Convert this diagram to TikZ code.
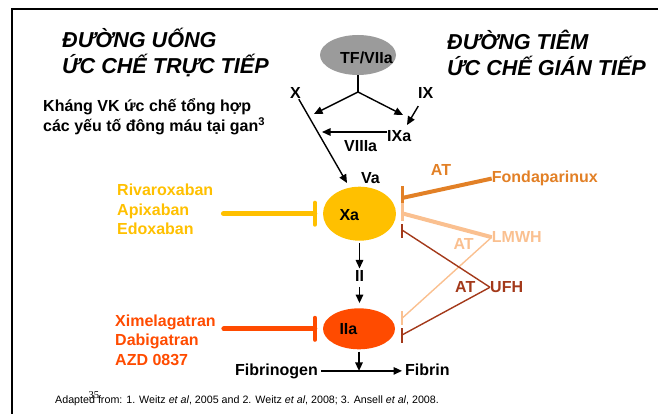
\documentclass[tikz,border=0pt]{standalone}
\usepackage{fontspec}
\setmainfont{Liberation Sans}
\newfontfamily\numfont{Liberation Serif}
\usetikzlibrary{arrows.meta, shapes.geometric}

\definecolor{xagold}{RGB}{255,192,0}
\definecolor{iiared}{RGB}{255,75,0}
\definecolor{fondaorange}{RGB}{226,128,38}
\definecolor{lmwhpeach}{RGB}{250,192,144}
\definecolor{ufhbrown}{RGB}{163,57,26}
\definecolor{tfgray}{RGB}{155,155,155}

\tikzset{
	lbl/.style = {font=\bfseries\fontsize{16}{19.5}\selectfont, inner sep=0pt},
	title/.style = {font=\bfseries\itshape\fontsize{21.6}{26}\selectfont, inner sep=0pt, align=left, anchor=west},
	factor/.style = {ellipse, inner sep=0pt, draw=none},
	arr/.style = {-{Triangle[length=8.5pt,width=7.5pt]}, line width=1.4pt},
	inh/.style = {line width=5pt, line cap=round},
	thickinh/.style = {line width=4pt},
	thininh/.style = {line width=1.4pt},
	inhbar/.style = {line width=3pt},
	thinbar/.style = {line width=1.6pt}
}

\begin{document}
\begin{tikzpicture}[x=1pt, y=-1pt]
	\useasboundingbox (0,0) rectangle (658,414);
	% slide frame
	\draw[line width=2.2pt] (12,414) -- (12,9) -- (658,9);

	\node[title] (oral) at (62,53) {ĐƯỜNG UỐNG\\ỨC CHẾ TRỰC TIẾP};
	\node[title] (inject) at (447,53) {ĐƯỜNG TIÊM\\ỨC CHẾ GIÁN TIẾP};
	\node[lbl, align=left, anchor=west, font=\bfseries\fontsize{16}{20}\selectfont] (vka) at (43,117) {Kháng VK ức chế tổng hợp\\các yếu tố đông máu tại gan\textsuperscript{3}};

	% cascade
	\node[factor, fill=tfgray, minimum width=76pt, minimum height=40pt] (tf) at (358,55) {};
	\node[lbl, anchor=base west] (tftext) at (340,63.5) {TF/VIIa};
	\coordinate (split) at (358,92);
	\coordinate (tenase) at (314,114);
	\coordinate (ixtip) at (403,115);
	\draw[line width=1.4pt] (tf) -- (split);
	\draw[arr] (split) -- (tenase);
	\draw[arr] (split) -- (ixtip);

	\node[lbl, anchor=base west] (x) at (290,99) {X};
	\node[lbl, anchor=base west] (ix) at (418,99) {IX};
	\node[lbl, anchor=base west] (ixa) at (387,141.7) {IXa};
	\node[lbl, anchor=base west] (viiia) at (344,151.7) {VIIIa};
	\node[lbl, anchor=base west] (va) at (361,184) {Va};
	\coordinate (ixin) at (407,125);
	\draw[arr, shorten <=8pt] (ix) -- (ixin);
	\coordinate (viiiin) at (322,132);
	\draw[arr] (ixa.west |- viiiin) -- (viiiin);

	\node[factor, fill=xagold, minimum width=73pt, minimum height=54pt] (xa) at (359.5,213.7) {};
	\node[lbl, anchor=base west] (xatext) at (339.3,220) {Xa};
	\coordinate (xain) at (347,183);
	\draw[arr] (x) -- (xain);

	\node[lbl, anchor=base west] (ii) at (355,281.7) {II};
	\node[factor, fill=iiared, minimum width=72pt, minimum height=41pt] (iia) at (359,328.8) {};
	\node[lbl, anchor=base west] (iiatext) at (339.3,334.3) {IIa};
	\draw[arr, shorten <=2pt, shorten >=2pt] (xa.south) -- (xa.south |- ii.north);
	\draw[arr, shorten <=5pt, shorten >=5pt] (xa.south |- ii.south) -- (xa.south |- iia.north);

	\node[lbl, anchor=base east] (fibrinogen) at (318,375) {Fibrinogen};
	\node[lbl, anchor=base west] (fibrin) at (405,375) {Fibrin};
	\draw[arr, shorten <=3pt, shorten >=3pt] (fibrinogen.east) -- (fibrin.west |- fibrinogen.east);
	\draw[arr, shorten <=2pt] (iia.south) -- (iia.south |- fibrinogen.east);

	% direct inhibitors
	\node[lbl, align=left, anchor=west, text=xagold] (xadrugs) at (117,209.5) {Rivaroxaban\\Apixaban\\Edoxaban};
	\coordinate (xabar) at ([xshift=-8pt]xa.west);
	\draw[inh, xagold, shorten <=10pt] (xadrugs.east |- xabar) -- (xabar);
	\draw[inhbar, xagold, line width=4pt, line cap=round] ([shift={(0,-11)}]xabar) -- ([shift={(0,11)}]xabar);

	\node[lbl, align=left, anchor=west, text=iiared] (iiadrugs) at (115,340) {Ximelagatran\\Dabigatran\\AZD 0837};
	\coordinate (iiabar) at ([xshift=-8pt]iia.west);
	\draw[inh, iiared, shorten <=8pt] (iiadrugs.east |- iiabar) -- (iiabar);
	\draw[inhbar, iiared, line width=4pt, line cap=round] ([shift={(0,-11)}]iiabar) -- ([shift={(0,11)}]iiabar);

	% indirect inhibitors
	\node[lbl, anchor=base west, text=fondaorange] (fonda) at (491.7,182.7) {Fondaparinux};
	\node[lbl, anchor=base west, text=fondaorange] (atfonda) at (430.7,175.7) {AT};
	\node[lbl, anchor=base west, text=lmwhpeach] (lmwh) at (491.7,242.7) {LMWH};
	\node[lbl, anchor=base west, text=lmwhpeach] (atlmwh) at (453.3,249.3) {AT};
	\node[lbl, anchor=base west, text=ufhbrown] (ufh) at (490,292.7) {UFH};
	\node[lbl, anchor=base west, text=ufhbrown] (atufh) at (455,292.7) {AT};

	\coordinate (fondaxa) at (402,198);
	\coordinate (lmwhxa) at (402,213.3);
	\coordinate (ufhxa) at (402,230);
	\coordinate (lmwhiia) at (402,318.3);
	\coordinate (ufhiia) at (402,335);

	\draw[thininh, lmwhpeach] (lmwh.west) -- (lmwhiia);
	\draw[thinbar, lmwhpeach] ([shift={(0,-7)}]lmwhiia) -- ([shift={(0,7)}]lmwhiia);
	\draw[thininh, ufhbrown] (ufh.west) -- (ufhxa);
	\draw[thinbar, ufhbrown] ([shift={(0,-6)}]ufhxa) -- ([shift={(0,8)}]ufhxa);
	\draw[thininh, ufhbrown] (ufh.west) -- (ufhiia);
	\draw[thinbar, ufhbrown] ([shift={(0,-7)}]ufhiia) -- ([shift={(0,8)}]ufhiia);
	\draw[thickinh, lmwhpeach] (lmwh.west) -- (lmwhxa);
	\draw[inhbar, lmwhpeach] ([shift={(0,-10)}]lmwhxa) -- ([shift={(0,8)}]lmwhxa);
	\draw[thickinh, fondaorange] (fonda.west) -- (fondaxa);
	\draw[inhbar, fondaorange] ([shift={(0,-12)}]fondaxa) -- ([shift={(0,5)}]fondaxa);

	\node[anchor=base west, inner sep=0pt, font=\fontsize{10.7}{12}\selectfont] (source) at (55,403.3) {Adapted from: 1. Weitz \textit{et al}, 2005 and 2. Weitz \textit{et al}, 2008; 3. Ansell \textit{et al}, 2008.};
	\node[anchor=base west, inner sep=0pt, font=\numfont\fontsize{10.5}{12}\selectfont] (slideno) at (88.3,398.3) {35};
\end{tikzpicture}
\end{document}
